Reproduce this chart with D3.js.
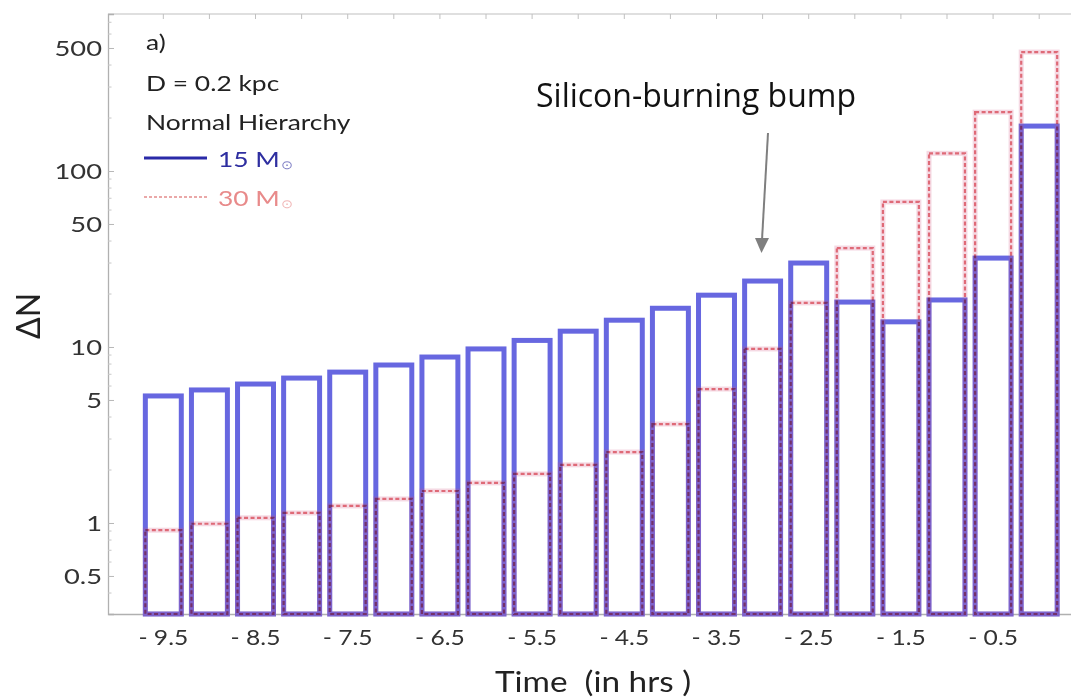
<!DOCTYPE html>
<html>
<head>
<meta charset="utf-8">
<script src="https://cdn.jsdelivr.net/npm/d3@7"></script>
<style>
  body { margin: 0; background: #fff; }
  svg { display: block; }
  text { font-family: Lato, "Open Sans", sans-serif; }
</style>
</head>
<body>
<div id="chart"></div>
<script>
// bin centres (hours before collapse)
const times = [-9.5, -9.0, -8.5, -8.0, -7.5, -7.0, -6.5, -6.0, -5.5, -5.0,
               -4.5, -4.0, -3.5, -3.0, -2.5, -2.0, -1.5, -1.0, -0.5, 0.0];

// events per bin, 15 and 30 solar masses
const n15 = [5.27, 5.7, 6.16, 6.66, 7.2, 7.9, 8.77, 9.75, 10.9, 12.3,
             14.2, 16.6, 19.7, 23.7, 30, 18.0, 13.9, 18.5, 32, 180];
const n30 = [0.91, 0.99, 1.07, 1.14, 1.25, 1.37, 1.52, 1.69, 1.9, 2.14,
             2.53, 3.65, 5.77, 9.75, 17.8, 36.5, 66.7, 126, 216, 474];

const xTicks = [-9.5, -8.5, -7.5, -6.5, -5.5, -4.5, -3.5, -2.5, -1.5, -0.5];
const yTicks = [0.5, 1, 5, 10, 50, 100, 500];
const legendLines = ["a)", "D = 0.2 kpc", "Normal Hierarchy"];

const W = 1071, H = 697;
const plot = {left: 108, right: 1071, top: 14, bottom: 614};
const barW = 0.39; // in hours

const svg = d3.select("#chart").append("svg")
    .attr("width", W)
    .attr("height", H);

const x = d3.scaleLinear()
    .domain([-10.1, 0.345])
    .range([plot.left, plot.right]);

const y = d3.scaleLog()
    .domain([0.304, 780])
    .range([plot.bottom, plot.top]);

// the original figure is stretched sideways, so text gets a scaleX
function label(g, tx, ty, sx) {
  return g.attr("transform", (d, i) =>
      `translate(${typeof tx === "function" ? tx(d, i) : tx},${typeof ty === "function" ? ty(d, i) : ty}) scale(${sx},1)`);
}

// frame
svg.append("line")
    .attr("x1", plot.left).attr("x2", plot.right)
    .attr("y1", plot.top).attr("y2", plot.top)
    .attr("stroke", "#d4d4d4").attr("stroke-width", 1.5);

// left axis with inward ticks
const yAxis = d3.axisRight(y)
    .tickValues(yTicks)
    .tickSize(6)
    .tickFormat("");
const gy = svg.append("g")
    .attr("transform", `translate(${plot.left},0)`)
    .call(yAxis);
gy.select(".domain").attr("stroke", "#b0b0b0").attr("stroke-width", 1.3);
gy.selectAll(".tick line").attr("stroke", "#b8b8b8");

// minor ticks
const minor = [];
[0.1, 1, 10, 100].forEach(dec => {
  for (let k = 2; k <= 9; k++) {
    const v = dec * k;
    if (v > 0.304 && v < 780 && !yTicks.includes(v)) minor.push(v);
  }
});
svg.append("g").selectAll("line")
    .data(minor)
    .enter().append("line")
    .attr("x1", plot.left).attr("x2", plot.left + 3.5)
    .attr("y1", d => y(d)).attr("y2", d => y(d))
    .attr("stroke", "#c8c8c8");

svg.append("g").selectAll("text")
    .data(yTicks)
    .enter().append("text")
    .call(label, 102, d => y(d), 1.3)
    .attr("dy", "0.36em")
    .attr("text-anchor", "end")
    .attr("fill", "#333")
    .style("font-size", "21px")
    .text(d => d);

// top ticks
svg.append("g").selectAll("line")
    .data(times)
    .enter().append("line")
    .attr("x1", d => x(d)).attr("x2", d => x(d))
    .attr("y1", plot.top).attr("y2", plot.top + 5)
    .attr("stroke", "#c0c0c0");

// bottom axis
const gx = svg.append("g")
    .attr("transform", `translate(0,${plot.bottom})`)
    .call(d3.axisBottom(x).tickValues(xTicks).tickSize(0).tickFormat(""));
gx.select(".domain").attr("stroke", "#b0b0b0").attr("stroke-width", 1.3);

svg.append("g").selectAll("text")
    .data(xTicks)
    .enter().append("text")
    .call(label, d => x(d), 645, 1.12)
    .attr("text-anchor", "middle")
    .attr("fill", "#333")
    .style("font-size", "22px")
    .text(d => "- " + Math.abs(d));

// bars
function drawBars(values, cls) {
  return svg.append("g").attr("class", cls)
    .selectAll("rect")
    .data(values.map((v, i) => ({t: times[i], v: v})))
    .enter().append("rect")
    .attr("x", d => x(d.t - barW / 2))
    .attr("width", d => x(d.t + barW / 2) - x(d.t - barW / 2))
    .attr("y", d => y(d.v))
    .attr("height", d => plot.bottom - y(d.v))
    .attr("fill", "none");
}

// 15 Msun solid
drawBars(n15, "m15")
    .attr("stroke", "#6767e0")
    .attr("stroke-width", 5);

// 30 Msun: translucent pink halo plus multiplied dashes
drawBars(n30, "m30-halo")
    .attr("stroke", "#d05080")
    .attr("stroke-opacity", 0.22)
    .attr("stroke-width", 5);
drawBars(n30, "m30")
    .attr("stroke", "#e87c86")
    .attr("stroke-width", 2.2)
    .attr("stroke-dasharray", "4,2.5")
    .style("mix-blend-mode", "multiply");

// legend / annotation text
svg.append("g").selectAll("text")
    .data(legendLines)
    .enter().append("text")
    .call(label, 146, (d, i) => [50, 91, 130][i], 1.2)
    .attr("fill", "#222")
    .style("font-size", "22px")
    .text(d => d);

const legend = [
  {label: "15 M", color: "#2a2aa8", text: "#2e2ea0", dash: null, w: 3, yy: 158},
  {label: "30 M", color: "#e48c8c", text: "#e88a8a", dash: "3,2", w: 1.6, yy: 197}
];
const lg = svg.append("g").selectAll("g")
    .data(legend)
    .enter().append("g");
lg.append("line")
    .attr("x1", 144).attr("x2", 207)
    .attr("y1", d => d.yy).attr("y2", d => d.yy)
    .attr("stroke", d => d.color)
    .attr("stroke-width", d => d.w)
    .attr("stroke-dasharray", d => d.dash);
const lt = lg.append("text")
    .call(label, 218, d => d.yy + 9, 1.2)
    .attr("fill", d => d.text)
    .style("font-size", "22px");
lt.append("tspan").text(d => d.label);
lt.append("tspan")
    .attr("dx", 1)
    .attr("dy", 2)
    .style("font-size", "12px")
    .attr("fill-opacity", 0.6)
    .text("\u2299");

// axis titles
svg.append("text")
    .call(label, 593, 692, 1.19)
    .attr("text-anchor", "middle")
    .attr("fill", "#222")
    .style("font-size", "28px")
    .style("white-space", "pre")
    .text("Time  (in hrs )");

svg.append("text")
    .attr("transform", "translate(40,316) rotate(-90)")
    .attr("text-anchor", "middle")
    .attr("fill", "#222")
    .style("font-size", "32px")
    .text("\u0394N");

// silicon burning call-out
svg.append("text")
    .attr("x", 696)
    .attr("y", 107)
    .attr("text-anchor", "middle")
    .attr("fill", "#111")
    .style("font-family", "'Open Sans', sans-serif")
    .style("font-size", "32px")
    .text("Silicon-burning bump");

svg.append("line")
    .attr("x1", 768).attr("y1", 133)
    .attr("x2", 762).attr("y2", 240)
    .attr("stroke", "#7f7f7f")
    .attr("stroke-width", 2);
svg.append("path")
    .attr("d", "M755,238 L769,238 L761.5,253 Z")
    .attr("fill", "#7f7f7f");
</script>
</body>
</html>
